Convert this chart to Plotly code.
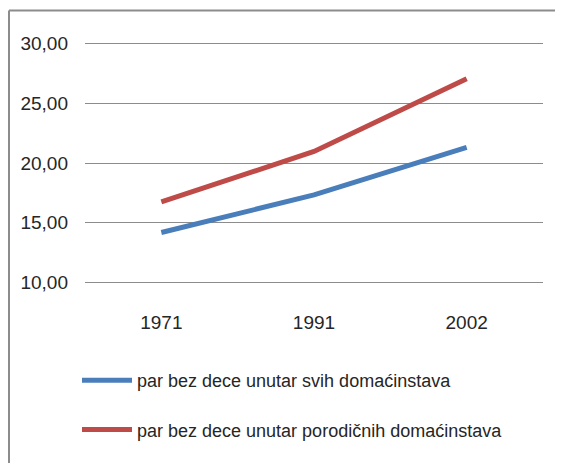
import plotly.graph_objects as go

years = ["1971", "1991", "2002"]
svih = [14.19, 17.33, 21.31]
porodicnih = [16.74, 20.97, 27.05]
name_svih = "par bez dece unutar svih domaćinstava"
name_porod = "par bez dece unutar porodičnih domaćinstava"
y_ticks = [10, 15, 20, 25, 30]

SCREEN_W, SCREEN_H = 563, 463
OFF = 8  # page body margin offset
W, H = SCREEN_W - OFF, SCREEN_H - OFF
# desired on-screen plot box: x 85..543, y 43 (30) .. 283 (10)
PX_PER_UNIT = 12.0
pad = 0.2
L = 85 - OFF
T = 43 - OFF - PX_PER_UNIT * pad
R = W - (543 - OFF)
B = H - (283 - OFF) - PX_PER_UNIT * pad
pw = W - L - R
ph = H - T - B

FONT = "Liberation Sans, Arial, sans-serif"
TXT = "#262626"
GRID = "#8C8C8C"

fig = go.Figure()
fig.add_trace(go.Scatter(x=years, y=svih, mode="lines", name=name_svih,
                         line=dict(color="#4A7EBB", width=5), legendgroup="a"))
fig.add_trace(go.Scatter(x=years, y=porodicnih, mode="lines", name=name_porod,
                         line=dict(color="#BE4B48", width=5), legendgroup="b"))

# outer frame (left and top edges), given in on-screen pixels
def px_x(p):
    return (p - OFF - L) / pw

def px_y(p):
    return (H - B - (p - OFF)) / ph

fig.add_shape(type="line", xref="paper", yref="paper",
              x0=px_x(9), x1=px_x(SCREEN_W + 20), y0=px_y(10), y1=px_y(10),
              line=dict(color=GRID, width=2))
fig.add_shape(type="line", xref="paper", yref="paper",
              x0=px_x(9), x1=px_x(9), y0=px_y(10), y1=px_y(SCREEN_H + 20),
              line=dict(color=GRID, width=2))

fig.update_layout(
    width=W, height=H,
    margin=dict(l=L, r=R, t=T, b=B, autoexpand=False),
    paper_bgcolor="white", plot_bgcolor="white",
    separators=",.",
    font=dict(family=FONT, size=18, color=TXT),
    showlegend=True,
    legend=dict(xref="container", yref="container",
                x=(69 - 0) / W, y=(H - 354) / H, xanchor="left", yanchor="top",
                font=dict(family=FONT, size=18, color=TXT),
                traceorder="grouped", tracegroupgap=23, itemwidth=50,
                bgcolor="rgba(0,0,0,0)"),
    xaxis=dict(type="category", range=[-0.5, 2.5], showgrid=False,
               showline=False, zeroline=False,
               ticks="", ticklabelstandoff=24,
               tickfont=dict(family=FONT, size=19, color=TXT)),
    yaxis=dict(range=[10 - pad, 30 + pad], tickvals=y_ticks, tickformat=".2f",
               showgrid=True, gridcolor=GRID, gridwidth=1,
               zeroline=False, showline=False, ticks="",
               ticklabelstandoff=16,
               tickfont=dict(family=FONT, size=19, color=TXT)),
)

fig.write_html("out.html", config={"displayModeBar": False})
